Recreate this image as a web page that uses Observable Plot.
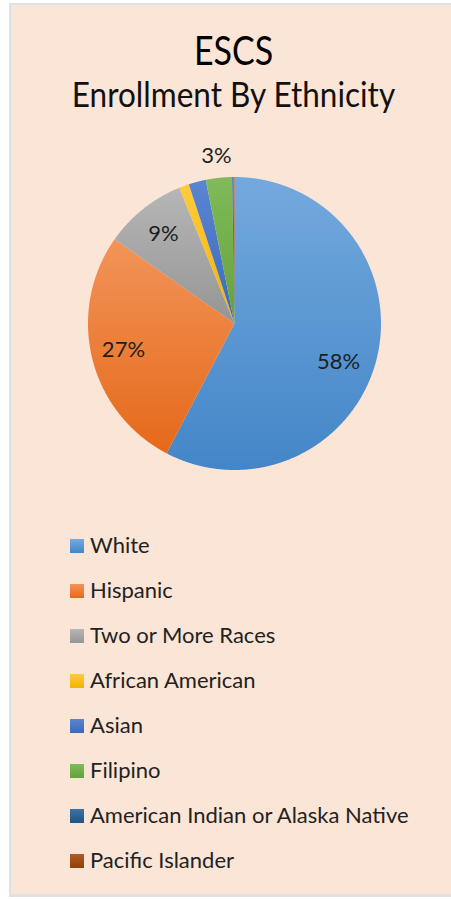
<!DOCTYPE html>
<html>
<head>
<meta charset="utf-8">
<script src="https://cdn.jsdelivr.net/npm/d3@7"></script>
<script src="https://cdn.jsdelivr.net/npm/@observablehq/plot@0.6"></script>
<style>
  html, body { margin: 0; padding: 0; background: #ffffff; }
  body { width: 451px; height: 899px; position: relative; overflow: hidden; font-family: Lato, "Open Sans", sans-serif; }
  #frame { position: absolute; left: 9px; top: 3px; width: 442px; height: 889px; background: #FBE5D6;
           border-left: 2px solid #DDE2E7; border-top: 2px solid #DDE2E7; border-bottom: 3px solid #DDE2E7; box-sizing: content-box; }
  .ttl { position: absolute; left: 0; width: 467px; text-align: center; line-height: 1; white-space: nowrap; color: #000; }
  #title { font-size: 34px; top: 34.8px; transform: scaleY(1.2); transform-origin: 50% 88.7%; }
  #subtitle { font-size: 31.5px; top: 80.4px; transform: scaleY(1.12); transform-origin: 50% 88.7%; color: #111; }
  #chart { position: absolute; left: 11px; top: 140px; }
  #legend { position: absolute; left: 70px; top: 523.5px; }
  .row { height: 45px; display: flex; align-items: center; }
  .sw { width: 14px; height: 14px; margin-right: 6px; flex: none; }
  .lab { font-size: 22px; line-height: 1; color: #222; white-space: nowrap; position: relative; top: -1px; }
</style>
</head>
<body>
<div id="frame"></div>
<div id="title" class="ttl">ESCS</div>
<div id="subtitle" class="ttl">Enrollment By Ethnicity</div>
<div id="chart"></div>
<div id="legend"></div>
<script>
// ---- data ----
const categories = ["White", "Hispanic", "Two or More Races", "African American", "Asian", "Filipino", "American Indian or Alaska Native", "Pacific Islander"];
const shares = [57.7, 27.1, 9.1, 1.1, 1.9, 2.9, 0.15, 0.1];
const labels = ["58%", "27%", "9%", "", "", "3%", "", ""];
const colorsTop = ["#74A9DE", "#F29458", "#B6B6B6", "#FFCB3D", "#5A85D2", "#80BA5A", "#3B72A5", "#B25C25"];
const colorsBottom = ["#4386C7", "#E5691A", "#959595", "#F2B300", "#3B69BA", "#64A23A", "#1F5484", "#943F08"];

// ---- layout ----
const W = 440, H = 360;
const cx = 223, cy = 183, R = 146.5;

const arcs = d3.pie().sort(null).value(d => d)(shares);
const slices = arcs.map((a, i) => {
  const n = Math.max(2, Math.ceil((a.endAngle - a.startAngle) / 0.004));
  const pts = [{x: 0, y: 0}];
  for (let k = 0; k <= n; k++) {
    const t = a.startAngle + (a.endAngle - a.startAngle) * k / n;
    pts.push({x: Math.sin(t), y: Math.cos(t)});
  }
  pts.push({x: 0, y: 0});
  return pts;
});

const labelData = arcs.map((a, i) => {
  const mid = (a.startAngle + a.endAngle) / 2;
  const outside = shares[i] < 5;
  const r = outside ? 1.15 : 0.78;
  return {x: r * Math.sin(mid), y: r * Math.cos(mid), text: labels[i], big: shares[i] > 50};
}).filter(d => d.text !== "");

const chart = Plot.plot({
  width: W,
  height: H,
  margin: 0,
  x: {domain: [-cx / R, (W - cx) / R], axis: null},
  y: {domain: [-(H - cy) / R, cy / R], axis: null},
  style: {background: "transparent", overflow: "visible", fontFamily: "Lato, 'Open Sans', sans-serif"},
  marks: [
    ...slices.map((pts, i) => Plot.line(pts, {x: "x", y: "y", fill: `url(#g${i})`, stroke: "none"})),
    Plot.text(labelData.filter(d => !d.big), {x: "x", y: "y", text: "text", fontSize: 22, fill: "#1e1e1e"}),
    Plot.text(labelData.filter(d => d.big), {x: "x", y: "y", text: "text", fontSize: 22, fill: "#1e1e1e", dx: -7, dy: 11})
  ]
});

const defs = d3.select(chart).insert("defs", ":first-child");
colorsTop.forEach((c, i) => {
  const g = defs.append("linearGradient").attr("id", `g${i}`).attr("x1", 0).attr("y1", 0).attr("x2", 0).attr("y2", 1);
  g.append("stop").attr("offset", "0%").attr("stop-color", c);
  g.append("stop").attr("offset", "100%").attr("stop-color", colorsBottom[i]);
});
document.getElementById("chart").appendChild(chart);

// ---- legend ----
const legend = d3.select("#legend");
categories.forEach((c, i) => {
  const row = legend.append("div").attr("class", "row");
  row.append("div").attr("class", "sw").style("background", `linear-gradient(${colorsTop[i]}, ${colorsBottom[i]})`);
  row.append("div").attr("class", "lab").text(c);
});
</script>
</body>
</html>
